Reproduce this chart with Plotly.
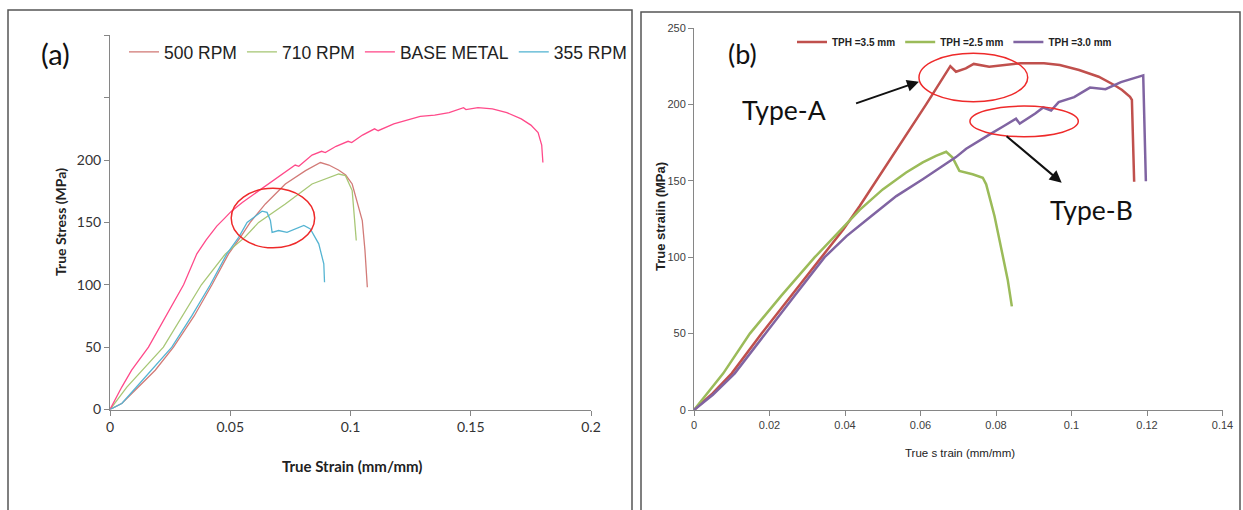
import plotly.graph_objects as go

W, H = 1243, 510

# ---------------- Panel (a) data ----------------
bm_strain = [0, 0.0049, 0.009, 0.016, 0.0306, 0.0361, 0.040, 0.0444, 0.0475, 0.0505, 0.055, 0.063, 0.068, 0.0736,
             0.077, 0.0785, 0.084, 0.088, 0.0895, 0.094, 0.099, 0.1005, 0.105, 0.110, 0.1115, 0.118, 0.124, 0.129,
             0.135, 0.141, 0.147, 0.148, 0.153, 0.159, 0.165, 0.171, 0.175, 0.178, 0.1795, 0.180]
bm_stress = [0, 18, 31.5, 50, 100, 124.8, 136, 147, 153, 159, 166, 177, 184, 191.5,
             196, 195, 204, 207, 206, 211, 215, 214, 220, 225, 223.5, 229, 232, 235,
             236, 238, 242, 240.5, 242, 241, 238, 233, 228, 222, 212, 198]

rpm500_strain = [0, 0.005, 0.0118, 0.0188, 0.0264, 0.035, 0.0424, 0.0493, 0.0542, 0.0583, 0.0646, 0.0729, 0.0813,
                 0.0875, 0.091, 0.095, 0.098, 0.1007, 0.1049, 0.106, 0.107]
rpm500_stress = [0, 5, 18, 31.5, 50, 75, 100, 124.8, 138, 150, 164.8, 180.8, 191.5,
                 198, 196, 192, 188, 180.8, 151.5, 128, 98]

rpm710_strain = [0, 0.007, 0.0222, 0.03, 0.038, 0.048, 0.056, 0.0618, 0.0729, 0.084, 0.0951, 0.0979, 0.1007, 0.1024]
rpm710_stress = [0, 18, 50, 75, 100, 124.8, 138, 150, 164.8, 180.8, 188.8, 187.5, 175.5, 135.5]

rpm355_strain = [0, 0.0049, 0.011, 0.0257, 0.034, 0.0417, 0.0486, 0.0535, 0.057, 0.0632, 0.0653, 0.0667, 0.0674,
                 0.0701, 0.0736, 0.0771, 0.0806, 0.0833, 0.0868, 0.0889, 0.0892]
rpm355_stress = [0, 4.8, 18, 50, 75, 100, 124.8, 138, 150, 159, 158, 151.5, 142,
                 143.5, 142, 144.8, 147.5, 144.8, 132.8, 116.8, 102]

a_xticks = [0, 0.05, 0.1, 0.15, 0.2]
a_xticktext = ["0", "0.05", "0.1", "0.15", "0.2"]
a_yticks = [0, 50, 100, 150, 200, 250, 300]
a_yticktext = ["0", "50", "100", "150", "200", "", ""]

# ---------------- Panel (b) data ----------------
tph35_strain = [0, 0.005, 0.01, 0.0179, 0.0258, 0.0337, 0.0395, 0.0439, 0.0483, 0.0522, 0.0558, 0.0615, 0.0679,
                0.0694, 0.072, 0.0741, 0.0782, 0.0824, 0.0865, 0.0927, 0.0969, 0.102, 0.1072, 0.1113, 0.1134,
                0.1155, 0.116, 0.1166]
tph35_stress = [0, 11, 24, 50, 75, 100, 118, 133.5, 150, 164.5, 178.5, 200, 225,
                221.4, 223.6, 226.5, 224.7, 225.8, 226.9, 226.9, 225.8, 222.5, 218.1, 212.7, 209.4,
                205, 202.9, 149.4]

tph25_strain = [0, 0.004, 0.00775, 0.0148, 0.0232, 0.032, 0.039, 0.0439, 0.05, 0.0562, 0.0606, 0.0641, 0.0668,
                0.0685, 0.0703, 0.0738, 0.0765, 0.0774, 0.0796, 0.0813, 0.0831, 0.0842]
tph25_stress = [0, 12, 24, 50, 75, 100, 118, 131, 144.4, 155.4, 162, 166.3, 169,
                165.2, 156.5, 154.3, 152, 147.7, 127, 107.2, 85.3, 67.8]

tph30_strain = [0, 0.005, 0.0108, 0.0188, 0.0267, 0.0346, 0.0404, 0.047, 0.0536, 0.0606, 0.0659, 0.0694, 0.0721,
                0.076, 0.0779, 0.0822, 0.0853, 0.0863, 0.0904, 0.0925, 0.0946, 0.0966, 0.1007, 0.1049, 0.109,
                0.1131, 0.1172, 0.119, 0.1197]
tph30_stress = [0, 10, 24, 50, 75, 100, 113.8, 127, 140, 151, 159.7, 165.5, 171,
                176.5, 179.7, 186, 190.6, 187.4, 194, 198, 196, 201.5, 204.8, 211, 210,
                214.6, 217.4, 219, 149.7]

b_xticks = [0, 0.02, 0.04, 0.06, 0.08, 0.1, 0.12, 0.14]
b_xticktext = ["0", "0.02", "0.04", "0.06", "0.08", "0.1", "0.12", "0.14"]
b_yticks = [0, 50, 100, 150, 200, 250]

ARIAL = "Liberation Sans, Arial, sans-serif"
CAL = "Lato, Carlito, Calibri, sans-serif"
AXC = "#868686"

fig = go.Figure()

# panel (a) traces (legend order: 500, 710, BASE, 355)
fig.add_trace(go.Scatter(x=rpm500_strain, y=rpm500_stress, mode="lines", name="500 RPM",
                         line=dict(color="#D27B78", width=1.3), xaxis="x", yaxis="y", legend="legend"))
fig.add_trace(go.Scatter(x=rpm710_strain, y=rpm710_stress, mode="lines", name="710 RPM",
                         line=dict(color="#A8C776", width=1.3), xaxis="x", yaxis="y", legend="legend"))
fig.add_trace(go.Scatter(x=bm_strain, y=bm_stress, mode="lines", name="BASE METAL",
                         line=dict(color="#FF4A8A", width=1.3), xaxis="x", yaxis="y", legend="legend"))
fig.add_trace(go.Scatter(x=rpm355_strain, y=rpm355_stress, mode="lines", name="355 RPM",
                         line=dict(color="#55B4D2", width=1.3), xaxis="x", yaxis="y", legend="legend"))

# panel (b) traces
fig.add_trace(go.Scatter(x=tph35_strain, y=tph35_stress, mode="lines", name="TPH =3.5 mm",
                         line=dict(color="#C0504D", width=2.5), xaxis="x2", yaxis="y2", legend="legend2"))
fig.add_trace(go.Scatter(x=tph25_strain, y=tph25_stress, mode="lines", name="TPH =2.5 mm",
                         line=dict(color="#9BBB59", width=2.5), xaxis="x2", yaxis="y2", legend="legend2"))
fig.add_trace(go.Scatter(x=tph30_strain, y=tph30_stress, mode="lines", name="TPH =3.0 mm",
                         line=dict(color="#8064A2", width=2.5), xaxis="x2", yaxis="y2", legend="legend2"))

def px(xp):
    return xp / W

def py(yp):
    return 1 - yp / H

common_axis = dict(showline=True, linecolor=AXC, linewidth=1, ticks="outside", ticklen=5,
                   tickcolor=AXC, showgrid=False, zeroline=False, automargin=False)

fig.update_layout(
    width=W, height=H, autosize=False,
    margin=dict(l=0, r=0, t=0, b=0, pad=0, autoexpand=False),
    paper_bgcolor="white", plot_bgcolor="white",
    xaxis=dict(domain=[px(110), px(591)], range=[0, 0.2], tickvals=a_xticks, ticktext=a_xticktext,
               anchor="y", tickfont=dict(family=CAL, size=14, color="#333333"), **common_axis),
    yaxis=dict(domain=[py(409.5), py(35.3)], range=[0, 300], tickvals=a_yticks, ticktext=a_yticktext,
               anchor="x", tickfont=dict(family=CAL, size=14, color="#333333"), **common_axis),
    xaxis2=dict(domain=[px(694), px(1222.5)], range=[0, 0.14], tickvals=b_xticks, ticktext=b_xticktext,
                anchor="y2", tickfont=dict(family=ARIAL, size=11, color="#404040"), **common_axis),
    yaxis2=dict(domain=[py(410), py(28)], range=[0, 250], tickvals=b_yticks,
                anchor="x2", tickfont=dict(family=ARIAL, size=11, color="#404040"), **common_axis),
    legend=dict(orientation="h", x=px(124), y=py(52), xanchor="left", yanchor="middle",
                font=dict(family=ARIAL, size=17.5, color="#222222"), bgcolor="rgba(0,0,0,0)",
                itemwidth=30, traceorder="normal"),
    legend2=dict(orientation="h", x=px(792), y=py(42), xanchor="left", yanchor="middle",
                 font=dict(family=ARIAL, size=10, color="#222222", weight="bold"), bgcolor="rgba(0,0,0,0)",
                 itemwidth=30, traceorder="normal"),
    showlegend=True,
)

shapes = [
    # panel frames
    dict(type="rect", xref="paper", yref="paper", x0=px(8), x1=px(632), y0=-0.05, y1=py(10),
         line=dict(color="#555555", width=1.5), layer="below"),
    dict(type="rect", xref="paper", yref="paper", x0=px(641), x1=px(1240), y0=-0.05, y1=py(12),
         line=dict(color="#555555", width=1.5), layer="below"),
    # ellipses
    dict(type="circle", xref="x", yref="y", x0=0.0504, x1=0.0851, y0=129.6, y1=177.3,
         line=dict(color="#EE2A2A", width=1.5)),
    dict(type="circle", xref="x2", yref="y2", x0=0.0596, x1=0.0884, y0=201.8, y1=233.4,
         line=dict(color="#EE2A2A", width=1.5)),
    dict(type="circle", xref="x2", yref="y2", x0=0.0731, x1=0.1018, y0=178.9, y1=198.9,
         line=dict(color="#EE2A2A", width=1.5)),
]
fig.update_layout(shapes=shapes)

def label(text, xp, yp, font, angle=0):
    return dict(text=text, x=px(xp), y=py(yp), xref="paper", yref="paper", showarrow=False,
                xanchor="center", yanchor="middle", textangle=angle, font=font)

ann = [
    label("(a)", 55, 54, dict(family=CAL, size=29, color="#111111")),
    label("(b)", 742, 54, dict(family=CAL, size=27, color="#111111")),
    label("Type-A", 784, 110, dict(family=CAL, size=26.5, color="#111111")),
    label("Type-B", 1091, 210, dict(family=CAL, size=26.5, color="#111111")),
    label("True Stress (MPa)", 60, 222, dict(family=CAL, size=14, color="#222222", weight="bold"), -90),
    label("True Strain (mm/mm)", 352, 466, dict(family=CAL, size=15, color="#222222", weight="bold")),
    label("True straiin (MPa)", 660, 217, dict(family=ARIAL, size=13, color="#222222", weight="bold"), -90),
    label("True s train (mm/mm)", 960, 453, dict(family=ARIAL, size=11.5, color="#222222")),
    # arrows
    dict(text="", x=0.0596, y=214.9, xref="x2", yref="y2", ax=0.04254, ay=200.3, axref="x2", ayref="y2",
         showarrow=True, arrowhead=2, arrowsize=1.2, arrowwidth=2, arrowcolor="#111111", standoff=0),
    dict(text="", x=0.0974, y=148.8, xref="x2", yref="y2", ax=0.0824, ay=180, axref="x2", ayref="y2",
         showarrow=True, arrowhead=2, arrowsize=1.2, arrowwidth=2, arrowcolor="#111111", standoff=0),
]
fig.update_layout(annotations=ann)

fig.write_html("out.html", config={"displayModeBar": False},
               post_script="document.body.style.margin='0px'; document.body.style.overflow='hidden';")
